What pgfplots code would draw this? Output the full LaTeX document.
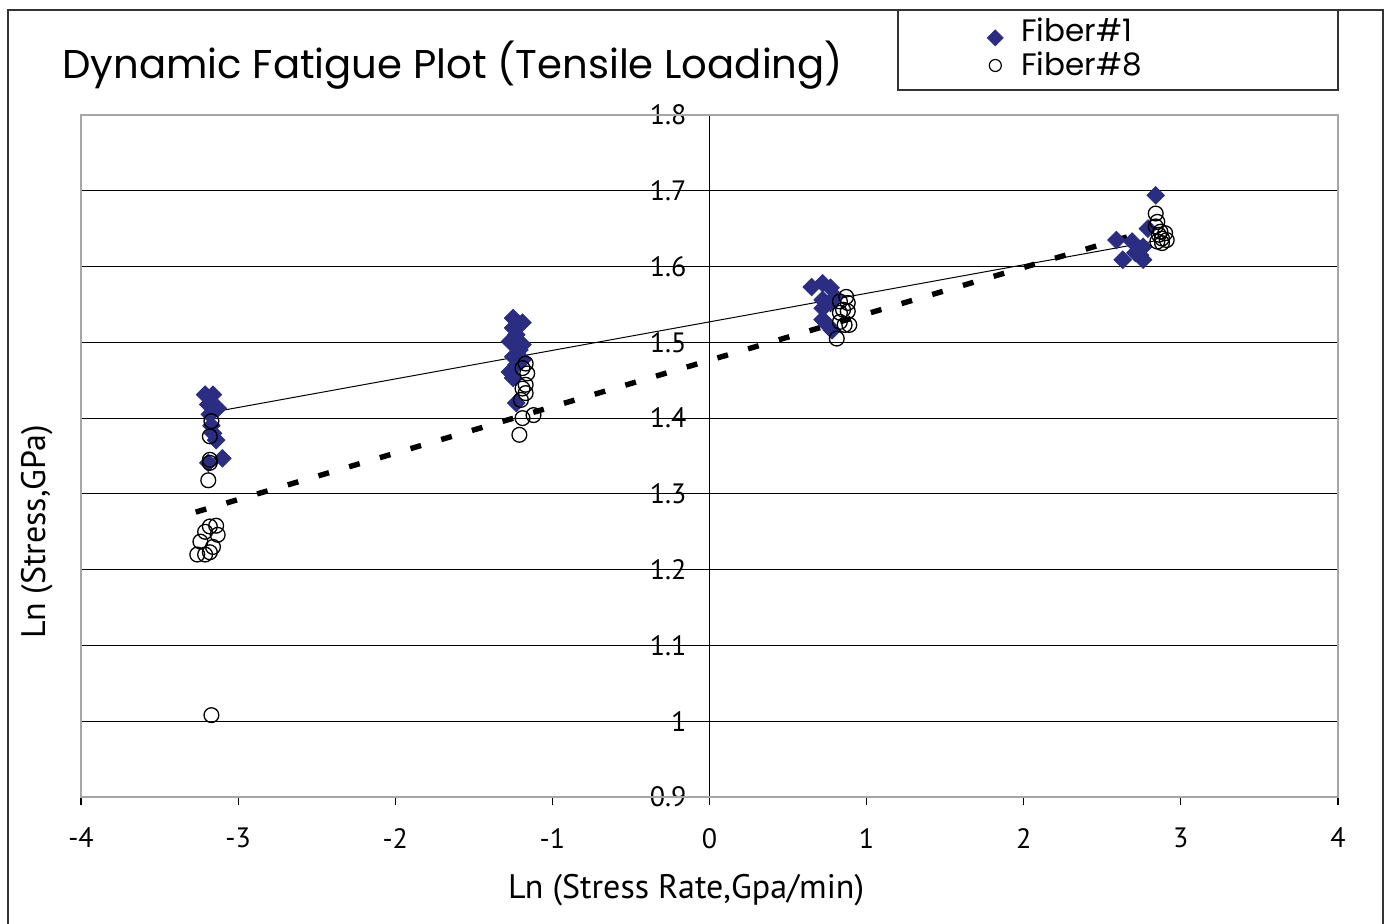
\documentclass[border=0pt]{standalone}
\usepackage{fontspec}
\setmainfont{PT Sans}
\newfontfamily\titlefont{Poppins}
\usepackage{pgfplots}
\pgfplotsset{compat=1.18}
\definecolor{navy}{RGB}{42,45,130}

\begin{document}
\begin{tikzpicture}
\path[use as bounding box] (0pt,0pt) rectangle (694.5pt,461.5pt);
\draw[line width=0.8pt, black!80] (4pt,-2pt) -- (4pt,456.5pt) -- (691.5pt,456.5pt) -- (691.5pt,-2pt);
\begin{axis}[
  at={(40.5pt,63pt)}, anchor=south west,
  scale only axis, width=628.5pt, height=341pt,
  xmin=-4, xmax=4, ymin=0.9, ymax=1.8,
  axis x line=bottom, axis y line=middle,
  axis line style={-, black, line width=0.6pt},
  xtick={-4,-3,-2,-1,0,1,2,3,4},
  xticklabels={-4,-3,-2,-1,0,1,2,3,4},
  ytick={0.9,1.0,1.1,1.2,1.3,1.4,1.5,1.6,1.7,1.8},
  yticklabels={0.9,1,1.1,1.2,1.3,1.4,1.5,1.6,1.7,1.8},
  hide obscured x ticks=false, hide obscured y ticks=false,
  tick align=outside, major tick length=4pt,
  tick style={black, line width=0.6pt},
  ymajorgrids, grid style={black, line width=0.6pt},
  tick label style={font=\fontsize{14}{14}\selectfont},
  xticklabel style={yshift=-8pt},
  yticklabel style={xshift=-4pt},
  clip=false,
  legend style={draw=none, fill=none, at={(axis description cs:0.716,1.098)}, anchor=west,
    font=\titlefont\fontsize{15.5}{15.5}\selectfont, row sep=0pt, column sep=7pt, cells={anchor=west}},
]
\addplot[only marks, mark=square*, mark size=3.1pt, mark options={rotate=45, fill=navy, draw=navy}, forget plot] coordinates {
(-3.21,1.431) (-3.16,1.431) (-3.19,1.418) (-3.13,1.413) (-3.18,1.405)
(-3.17,1.390) (-3.16,1.380) (-3.14,1.371) (-3.10,1.347) (-3.19,1.341)
(-1.25,1.532) (-1.19,1.526) (-1.25,1.519) (-1.23,1.510) (-1.27,1.501)
(-1.19,1.497) (-1.21,1.490) (-1.25,1.481) (-1.19,1.477) (-1.23,1.470)
(-1.27,1.461) (-1.25,1.453) (-1.23,1.420)
(0.72,1.578) (0.65,1.573) (0.77,1.572) (0.72,1.556) (0.77,1.552)
(0.80,1.560) (0.72,1.545) (0.72,1.530) (0.75,1.523) (0.78,1.516)
(2.84,1.694) (2.79,1.650) (2.59,1.635) (2.69,1.633) (2.76,1.626)
(2.71,1.618) (2.63,1.609) (2.76,1.609) (2.74,1.615)
};
\addplot[only marks, mark=o, mark size=3.7pt, mark options={black, line width=0.65pt}, forget plot] coordinates {
(-3.17,1.396) (-3.18,1.376) (-3.18,1.345) (-3.18,1.341) (-3.19,1.318)
(-3.14,1.258) (-3.18,1.257) (-3.21,1.250) (-3.13,1.246) (-3.24,1.237)
(-3.16,1.230) (-3.18,1.223) (-3.26,1.220) (-3.21,1.220) (-3.17,1.008)
(-1.17,1.472) (-1.19,1.466) (-1.16,1.459) (-1.17,1.444) (-1.19,1.439)
(-1.17,1.433) (-1.20,1.424) (-1.19,1.400) (-1.12,1.404) (-1.21,1.378)
(0.87,1.560) (0.83,1.554) (0.88,1.552) (0.85,1.543) (0.83,1.539)
(0.88,1.541) (0.83,1.527) (0.86,1.523) (0.89,1.523) (0.81,1.505)
(2.84,1.670) (2.85,1.659) (2.84,1.653) (2.87,1.646) (2.90,1.644)
(2.86,1.642) (2.88,1.637) (2.91,1.635) (2.85,1.633) (2.88,1.631)
};
\addplot[black, line width=0.5pt, forget plot] coordinates {(-3.16,1.408) (2.84,1.634)};
\addplot[black, line width=2.7pt, dash pattern=on 5.5pt off 10.5pt, forget plot] coordinates {(-3.27,1.276) (2.77,1.646)};
\addlegendimage{only marks, mark=square*, mark size=2.8pt, mark options={yshift=-3.5pt, rotate=45, fill=navy, draw=navy}}
\addlegendentry{Fiber\#1}
\addlegendimage{only marks, mark=o, mark size=3pt, mark options={black, line width=0.6pt}}
\addlegendentry{Fiber\#8}
\draw[gray!70, line width=0.6pt] (rel axis cs:0,0) rectangle (rel axis cs:1,1);
\end{axis}
\draw[line width=0.8pt, black!80] (449pt,416.5pt) rectangle (669pt,456.5pt);
\node[anchor=west, font=\titlefont\fontsize{20.1}{20.1}\selectfont, inner sep=0pt] at (31pt,429pt) {Dynamic Fatigue Plot (Tensile Loading)};
\node[font=\fontsize{17}{17}\selectfont, inner sep=0pt] at (343pt,16.5pt) {Ln (Stress Rate,Gpa/min)};
\node[font=\fontsize{17}{17}\selectfont, inner sep=0pt, rotate=90] at (18.5pt,195.5pt) {Ln (Stress,GPa)};
\end{tikzpicture}
\end{document}
